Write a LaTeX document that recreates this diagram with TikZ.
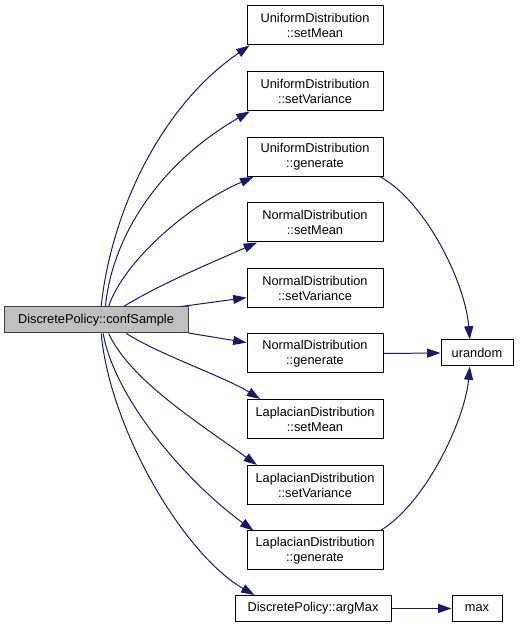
\documentclass[tikz,border=0pt]{standalone}
\usepackage{fontspec}
\setmainfont{Liberation Sans}
\usetikzlibrary{arrows.meta}
\definecolor{edgeblue}{HTML}{191970}
\definecolor{rootfill}{HTML}{BFBFBF}
\definecolor{rootline}{HTML}{404040}
\begin{document}
\begin{tikzpicture}[x=0.75pt,y=0.75pt,
  fn/.style={draw=black,line width=0.75pt,fill=white,inner sep=0pt,align=center,
    minimum width=102pt,minimum height=29.25pt,font=\fontsize{9.6}{11.25}\selectfont},
  fn1/.style={fn,minimum height=19.5pt},
  rootbox/.style={fn1,fill=rootfill,draw=rootline,minimum width=138pt},
  call/.style={draw=edgeblue,line width=0.75pt,-{Triangle[length=10pt,width=6.75pt,fill=edgeblue]}}
]
\useasboundingbox (0,0) rectangle (519,626);
\node[rootbox] (root) at (96,306) {DiscretePolicy::confSample};
\node[fn] (um) at (315,600.5) {UniformDistribution\\::setMean};
\node[fn] (uv) at (315,534.5) {UniformDistribution\\::setVariance};
\node[fn] (ug) at (315,469) {UniformDistribution\\::generate};
\node[fn] (nm) at (315,403.5) {NormalDistribution\\::setMean};
\node[fn] (nv) at (315,338) {NormalDistribution\\::setVariance};
\node[fn] (ng) at (315,272.5) {NormalDistribution\\::generate};
\node[fn] (lm) at (315,207) {LaplacianDistribution\\::setMean};
\node[fn] (lv) at (315,141) {LaplacianDistribution\\::setVariance};
\node[fn] (lg) at (315,75.5) {LaplacianDistribution\\::generate};
\node[fn1,minimum width=117pt] (am) at (313,17.5) {DiscretePolicy::argMax};
\node[fn1,minimum width=54pt] (ur) at (477,273) {urandom};
\node[fn1,minimum width=37.5pt] (mx) at (477,17.5) {max};

\draw[call] (root.69) .. controls +(9,88) and +(-93,-64) .. (um.197.5);
\draw[call] (root.55) .. controls +(6,65) and +(-95,-55) .. (uv.197.5);
\draw[call] (root.47) .. controls +(15,45) and +(-65,-28) .. (ug.198);
\draw[call] (root.26) .. controls +(37,23) and +(-40,-18) .. (nm.199.5);
\draw[call] (root.9) -- (nv.188.5);
\draw[call] (root.-8.5) -- (ng.171);
\draw[call] (root.-24) .. controls +(35,-22) and +(-35,22) .. (lm.160.5);
\draw[call] (root.-47) .. controls +(22,-47) and +(-58,42) .. (lv.161);
\draw[call] (root.-62) .. controls +(12,-67) and +(-65,47) .. (lg.162);
\draw[call] (root.-69) .. controls +(9,-97) and +(-70,40) .. (am.167.4);
\draw[call] (ug.-17.5) .. controls +(43,-23) and +(-5,60) .. (ur.118.3);
\draw[call] (ng.east) -- (ur.west);
\draw[call] (lg.17.5) .. controls +(45,27) and +(-5,-54) .. (ur.-118.3);
\draw[call] (am.east) -- (mx.west);
\end{tikzpicture}
\end{document}
